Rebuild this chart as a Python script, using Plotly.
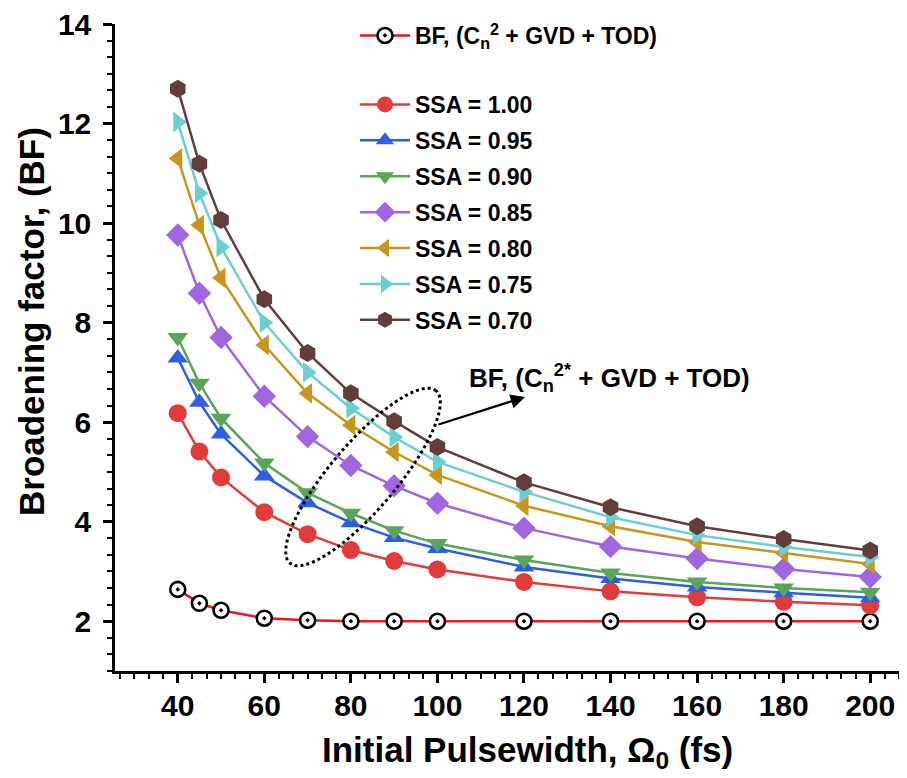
import numpy as np
import plotly.graph_objects as go

# ---------------- data ----------------
pulsewidth = [40, 45, 50, 60, 70, 80, 90, 100, 120, 140, 160, 180, 200]

bf_ref = [2.64, 2.36, 2.22, 2.06, 2.02, 2.00, 2.00, 2.00, 2.00, 2.00, 2.00, 2.00, 2.00]

ssa_100 = [6.18, 5.41, 4.89, 4.19, 3.75, 3.43, 3.21, 3.04, 2.79, 2.60, 2.48, 2.39, 2.32]
ssa_095 = [7.29, 6.40, 5.76, 4.92, 4.38, 3.98, 3.68, 3.46, 3.09, 2.86, 2.69, 2.57, 2.47]
ssa_090 = [7.70, 6.78, 6.08, 5.18, 4.58, 4.17, 3.82, 3.56, 3.23, 2.97, 2.79, 2.67, 2.58]
ssa_085 = [9.76, 8.59, 7.70, 6.52, 5.71, 5.13, 4.72, 4.37, 3.87, 3.50, 3.26, 3.05, 2.89]
ssa_080 = [11.30, 9.96, 8.90, 7.55, 6.58, 5.94, 5.40, 4.94, 4.32, 3.91, 3.59, 3.37, 3.15]
ssa_075 = [12.03, 10.60, 9.52, 8.00, 7.00, 6.28, 5.70, 5.20, 4.60, 4.09, 3.73, 3.49, 3.29]
ssa_070 = [12.70, 11.19, 10.06, 8.47, 7.39, 6.58, 6.02, 5.50, 4.79, 4.29, 3.91, 3.65, 3.42]

ssa_labels = ["SSA = 1.00", "SSA = 0.95", "SSA = 0.90", "SSA = 0.85",
              "SSA = 0.80", "SSA = 0.75", "SSA = 0.70"]
ssa_series = [ssa_100, ssa_095, ssa_090, ssa_085, ssa_080, ssa_075, ssa_070]
ssa_colors = ["#E23B3B", "#2F5FE0", "#5AA55A", "#A066E0", "#C8961E", "#6BCFCF", "#633C3C"]
ssa_symbols = ["circle", "triangle-up", "triangle-down", "diamond",
               "triangle-left", "triangle-right", "hexagon"]

ref_label = "BF, (C<sub>n</sub><sup>2</sup> + GVD + TOD)"
note_label = "BF, (C<sub>n</sub><sup>2*</sup> + GVD + TOD)"
x_title = "Initial Pulsewidth, \u03A9<sub>0</sub> (fs)"
y_title = "Broadening factor, (BF)"
x_ticks = [40, 60, 80, 100, 120, 140, 160, 180, 200]
y_ticks = [2, 4, 6, 8, 10, 12, 14]

# ---------------- layout geometry ----------------
OFF = 8                       # page offset of the plot div (body margin)
W, H = 907 - OFF, 778 - OFF
ML, MR, MT, MB = 115 - OFF, 0, 24 - OFF, 778 - 671
XR = [25.5, 208.5]
YR = [1.0, 14.0]
pw, ph = W - ML - MR, H - MT - MB
sx = pw / (XR[1] - XR[0])
sy = ph / (YR[1] - YR[0])


def px2x(px):  # screenshot px -> data x
    return XR[0] + (px - OFF - ML) / sx


def py2y(py):  # screenshot px -> data y
    return YR[1] - (py - OFF - MT) / sy


def px2paper(px):
    return (px - OFF - ML) / pw


def py2paper(py):
    return (H - MB - (py - OFF)) / ph


FONT = "Liberation Sans, Arial, sans-serif"

fig = go.Figure()

fig.add_trace(go.Scatter(
    x=pulsewidth, y=bf_ref, mode="lines+markers", name=ref_label,
    line=dict(color="#E8141E", width=2.5),
    marker=dict(symbol="circle-dot", size=15, color="white",
                line=dict(color="black", width=2.6)),
    legend="legend",
))

for lab, ys, col, sym in zip(ssa_labels, ssa_series, ssa_colors, ssa_symbols):
    fig.add_trace(go.Scatter(
        x=pulsewidth, y=ys, mode="lines+markers", name=lab,
        line=dict(color=col, width=2.5),
        marker=dict(symbol=sym, size=18, color=col, line=dict(width=0)),
        legend="legend2", legendgroup=lab,
    ))

# dotted ellipse (annotation) in pixel space converted to data coords
cx, cy, a, b, th = 363, 477, 113, 33, np.deg2rad(49.7)
t = np.linspace(0, 2 * np.pi, 121)
ex = cx + a * np.cos(t) * np.cos(th) - b * np.sin(t) * np.sin(th)
ey = cy - (a * np.cos(t) * np.sin(th) + b * np.sin(t) * np.cos(th))
path = "M " + " L ".join(f"{px2x(u):.4f},{py2y(v):.4f}" for u, v in zip(ex, ey)) + " Z"
fig.add_shape(type="path", path=path, xref="x", yref="y",
              line=dict(color="black", width=3, dash="dot"))

fig.add_annotation(x=px2x(525), y=py2y(397), ax=px2x(437), ay=py2y(425),
                   xref="x", yref="y", axref="x", ayref="y", text="",
                   showarrow=True, arrowhead=2, arrowsize=1.3, arrowwidth=2.2,
                   arrowcolor="black")
fig.add_annotation(x=px2x(467), y=py2y(378), xref="x", yref="y",
                   text=note_label, showarrow=False, xanchor="left", yanchor="middle",
                   font=dict(family=FONT, size=26, color="black", weight="bold"))

fig.add_annotation(x=px2paper(527), y=py2paper(752), xref="paper", yref="paper",
                   text=x_title, showarrow=False, xanchor="center", yanchor="middle",
                   font=dict(family=FONT, size=35, color="black", weight="bold"))
fig.add_annotation(x=px2paper(31), y=py2paper(322), xref="paper", yref="paper",
                   text=y_title, showarrow=False, textangle=-90,
                   xanchor="center", yanchor="middle",
                   font=dict(family=FONT, size=35, color="black", weight="bold"))

axis_common = dict(
    showline=True, linecolor="black", linewidth=2.5, mirror=False,
    showgrid=False, zeroline=False,
    ticks="outside", ticklen=9, tickwidth=2.5, tickcolor="black",
    ticklabeloverflow="allow",
    tickfont=dict(family=FONT, size=30, color="black", weight="bold"),
)

fig.update_xaxes(range=XR, tickmode="array", tickvals=x_ticks,
                 ticklabelstandoff=-3,
                 minor=dict(ticks="outside", ticklen=5, tickwidth=2, tickcolor="black",
                            dtick=20 / 6, tick0=40, showgrid=False),
                 **axis_common)
fig.update_yaxes(range=YR, tickmode="array", tickvals=y_ticks,
                 ticklabelstandoff=6,
                 minor=dict(ticks="outside", ticklen=5, tickwidth=2, tickcolor="black",
                            dtick=1 / 3, tick0=2, showgrid=False),
                 **axis_common)

legend_font = dict(family=FONT, size=23, color="black", weight="bold")
fig.update_layout(
    width=W, height=H,
    margin=dict(l=ML, r=MR, t=MT, b=MB, autoexpand=False),
    paper_bgcolor="white", plot_bgcolor="white",
    showlegend=True,
    legend=dict(x=px2paper(355), y=py2paper(14), xanchor="left", yanchor="top",
                bgcolor="rgba(0,0,0,0)", font=legend_font, itemwidth=50,
                borderwidth=0),
    legend2=dict(x=px2paper(355), y=py2paper(83), xanchor="left", yanchor="top",
                 bgcolor="rgba(0,0,0,0)", font=legend_font, itemwidth=50,
                 borderwidth=0, tracegroupgap=3),
)

fig.write_html("out.html")
